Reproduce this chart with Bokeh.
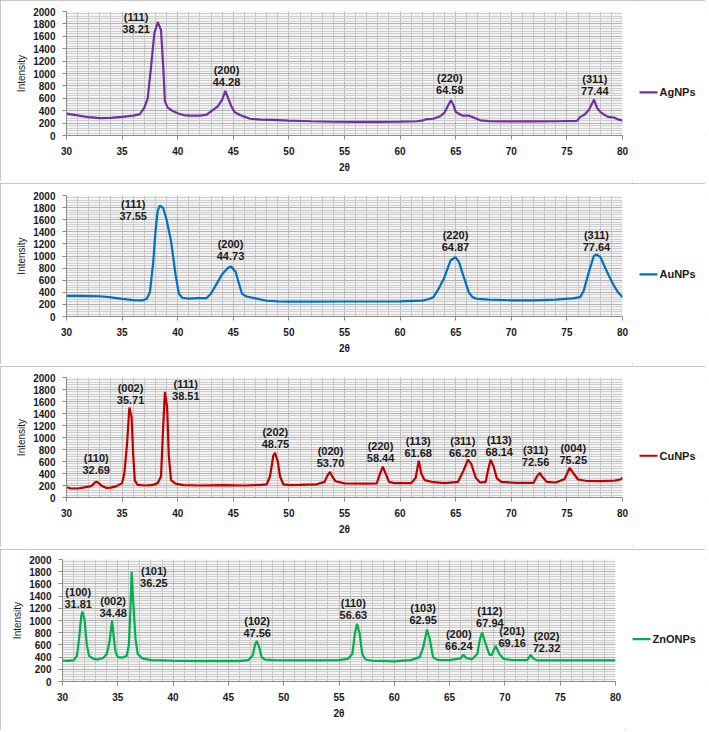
from bokeh.plotting import figure
from bokeh.layouts import column, row
from bokeh.models import SingleIntervalTicker, Range1d, ColumnDataSource
from bokeh.embed import file_html
from bokeh.resources import INLINE
from bokeh.core.properties import value

# ---------------- data ----------------
x_ticks = [30, 35, 40, 45, 50, 55, 60, 65, 70, 75, 80]
y_ticks = [0, 200, 400, 600, 800, 1000, 1200, 1400, 1600, 1800, 2000]

ag_x = [30, 31, 32, 33, 34, 35, 36, 36.6, 37.0, 37.3, 37.6, 37.9, 38.21, 38.5, 38.7, 38.85, 39.1, 39.5, 40,
        40.5, 41, 42, 42.6, 43, 43.6, 44.0, 44.28, 44.5, 44.8, 45.1, 45.6, 46.5, 47.5, 48.5, 50, 52, 54, 56,
        58, 60, 61.5, 62.1, 62.4, 63.0, 63.6, 64.0, 64.3, 64.58, 64.8, 65.0, 65.3, 65.6, 66.2, 66.6, 67.2,
        68, 70, 72, 74, 75.9, 76.2, 76.6, 77.0, 77.2, 77.44, 77.7, 78.0, 78.4, 78.7, 79.2, 79.6, 80]
ag_y = [352, 325, 295, 280, 285, 300, 320, 345, 450, 600, 1100, 1650, 1830, 1700, 1100, 550, 450, 400, 360,
        330, 320, 320, 335, 390, 470, 580, 720, 620, 480, 380, 330, 270, 255, 252, 240, 230, 222, 220,
        220, 225, 230, 245, 265, 270, 310, 370, 480, 570, 490, 380, 350, 320, 320, 290, 245,
        232, 228, 228, 230, 235, 300, 340, 420, 490, 580, 450, 380, 330, 300, 290, 260, 240]

au_x = [30, 31, 32, 33, 34, 35, 36, 36.8, 37.2, 37.5, 37.8, 38.0, 38.2, 38.4, 38.7, 39.0, 39.4, 39.8, 40.1,
        40.4, 41, 41.8, 42.6, 43.0, 43.5, 44.0, 44.5, 44.8, 45.2, 45.5, 45.8, 46.2, 47, 48, 49, 50, 52, 55,
        58, 60, 62, 62.6, 63.0, 63.5, 63.93, 64.53, 64.98, 65.3, 65.58, 66.18, 66.5, 66.93, 68, 70, 72, 74,
        75.5, 76.2, 76.5, 76.97, 77.42, 77.66, 78.02, 78.62, 79.22, 79.6, 80]
au_y = [340, 340, 338, 335, 315, 290, 270, 265, 290, 400, 900, 1400, 1750, 1835, 1790, 1600, 1250, 700, 380,
        310, 295, 305, 305, 380, 540, 700, 800, 826, 740, 550, 370, 330, 300, 260, 250, 245, 245, 248,
        248, 250, 262, 290, 320, 470, 623, 925, 980, 900, 733, 400, 320, 292, 280, 268, 268, 280,
        300, 320, 420, 733, 1000, 1025, 980, 733, 512, 400, 320]

cu_x = [30, 30.4, 31, 31.5, 32.0, 32.3, 32.55, 32.7, 32.9, 33.2, 33.6, 34.0, 34.5, 35.0, 35.2, 35.45, 35.65,
        35.85, 36.0, 36.15, 36.4, 37, 37.7, 38.2, 38.5, 38.7, 38.85, 39.05, 39.2, 39.4, 39.8, 40.5, 42, 44,
        46, 47.5, 48.0, 48.3, 48.6, 48.75, 49.0, 49.2, 49.5, 50, 51, 52.5, 53.2, 53.5, 53.7, 53.9, 54.2, 55,
        57, 57.9, 58.2, 58.44, 58.7, 59.0, 59.5, 61, 61.4, 61.68, 61.9, 62.2, 63, 64, 65.2, 65.7, 66.1, 66.4,
        66.8, 67.2, 67.7, 67.9, 68.14, 68.4, 68.7, 69.1, 70.5, 72.0, 72.3, 72.56, 72.8, 73.2, 74, 74.8,
        75.25, 75.6, 76.0, 76.8, 78, 79.3, 79.8, 80]
cu_y = [170, 150, 150, 165, 180, 200, 250, 265, 240, 190, 160, 165, 190, 240, 400, 900, 1500,
        1350, 700, 280, 210, 200, 205, 240, 350, 1200, 1760, 1500, 700, 290, 230, 205, 200, 205,
        200, 210, 220, 350, 700, 745, 600, 350, 220, 205, 210, 220, 260, 380, 425, 350, 270, 235,
        230, 235, 400, 515, 400, 260, 240, 240, 330, 615, 400, 290, 255, 240, 260, 450, 630, 560,
        330, 250, 260, 450, 630, 520, 320, 260, 245, 245, 350, 410, 340, 260, 250, 310,
        495, 400, 300, 275, 272, 280, 300, 330]

zn_x = [30, 30.5, 31.0, 31.3, 31.5, 31.7, 31.81, 32.0, 32.2, 32.4, 32.8, 33.2, 33.7, 34.0, 34.25, 34.48, 34.65,
        34.8, 35.0, 35.4, 35.8, 36.0, 36.15, 36.25, 36.4, 36.6, 36.8, 37.2, 38, 40, 42, 44, 46, 46.8, 47.2,
        47.4, 47.56, 47.8, 48.0, 48.3, 49, 51, 53, 55, 55.8, 56.2, 56.45, 56.63, 56.85, 57.1, 57.4, 58, 60,
        61.5, 62.3, 62.6, 62.95, 63.2, 63.5, 63.9, 65, 66.0, 66.24, 66.5, 67.0, 67.5, 67.75, 67.94, 68.2,
        68.6, 68.8, 69.16, 69.5, 69.9, 70.5, 72.0, 72.2, 72.32, 72.6, 73, 75, 80]
zn_y = [340, 338, 345, 420, 700, 1080, 1145, 1000, 600, 420, 370, 360, 390, 450, 650, 1000, 700,
        480, 400, 390, 420, 600, 1200, 1800, 1300, 700, 450, 380, 350, 340, 335, 333, 335, 350, 430,
        600, 665, 550, 400, 360, 350, 345, 345, 350, 370, 450, 800, 945, 800, 450, 360, 340, 330,
        350, 400, 550, 850, 700, 400, 355, 350, 380, 440, 390, 360, 450, 700, 800, 650,
        440, 430, 585, 450, 370, 355, 350, 400, 440, 370, 345, 345, 345]

# peak labels: (hkl), reported 2-theta, and label anchor (centre of the two-line block)
ag_hkl = ["(111)", "(200)", "(220)", "(311)"]
ag_pk = ["38.21", "44.28", "64.58", "77.44"]
ag_lx = [36.26, 44.39, 64.47, 77.51]
ag_ly = [1814, 963, 838, 812]

au_hkl = ["(111)", "(200)", "(220)", "(311)"]
au_pk = ["37.55", "44.73", "64.87", "77.64"]
au_lx = [36.0, 44.75, 64.98, 77.66]
au_ly = [1763, 1096, 1243, 1256]

cu_hkl = ["(110)", "(002)", "(111)", "(202)", "(020)", "(220)", "(113)", "(311)", "(113)", "(311)", "(004)"]
cu_pk = ["32.69", "35.71", "38.51", "48.75", "53.70", "58.44", "61.68", "66.20", "68.14", "72.56", "75.25"]
cu_lx = [32.67, 35.76, 40.73, 48.79, 53.74, 58.24, 61.63, 65.64, 68.91, 72.18, 75.57]
cu_ly = [562, 1733, 1789, 991, 672, 756, 834, 850, 861, 686, 725]

zn_hkl = ["(100)", "(002)", "(101)", "(102)", "(110)", "(103)", "(200)", "(112)", "(201)", "(202)"]
zn_pk = ["31.81", "34.48", "36.25", "47.56", "56.63", "62.95", "66.24", "67.94", "69.16", "72.32"]
zn_lx = [31.42, 34.58, 38.26, 47.6, 56.3, 62.61, 65.83, 68.64, 70.66, 73.76]
zn_ly = [1366, 1219, 1705, 891, 1183, 1104, 681, 1060, 722, 642]

names = ["AgNPs", "AuNPs", "CuNPs", "ZnONPs"]
colors = ["#7030A0", "#0070C0", "#C00000", "#00B050"]

# ---------------- layout ----------------
W, H = 705, 181
FRAME_LEFT = [66, 66, 66, 62]
FRAME_W = [556, 556, 556, 553]
FRAME_TOP = [11, 12, 11, 10]
FRAME_H = [124, 121, 120, 122]
PAD_R = 10            # room on the right for the last tick label
LEG_GAP = 17          # legend sample offset right of the plot area
LEG_Y = 63            # legend vertical position inside the side figure
LEG_LINE = 18         # legend sample length, px
FONT_NAME = "Liberation Sans"
FONT = value(FONT_NAME)

series = [
    (ag_x, ag_y, ag_hkl, ag_pk, ag_lx, ag_ly),
    (au_x, au_y, au_hkl, au_pk, au_lx, au_ly),
    (cu_x, cu_y, cu_hkl, cu_pk, cu_lx, cu_ly),
    (zn_x, zn_y, zn_hkl, zn_pk, zn_lx, zn_ly),
]


def make_panel(i):
    xs, ys, hkl, pk, lx, ly = series[i]
    left, fw, top, fh = FRAME_LEFT[i], FRAME_W[i], FRAME_TOP[i], FRAME_H[i]
    bottom = H - top - fh
    p = figure(width=left + fw + PAD_R, height=H, x_range=Range1d(x_ticks[0], x_ticks[-1]),
               y_range=Range1d(y_ticks[0], y_ticks[-1]),
               output_backend="svg", toolbar_location=None,
               min_border_left=left, min_border_right=PAD_R,
               min_border_top=top, min_border_bottom=bottom)
    p.outline_line_color = None
    p.background_fill_color = "#f4f4f4"
    p.border_fill_color = "white"

    p.xaxis.ticker = SingleIntervalTicker(interval=5, num_minor_ticks=5)
    p.yaxis.ticker = SingleIntervalTicker(interval=200, num_minor_ticks=5)
    for ax in (p.xaxis[0], p.yaxis[0]):
        ax.axis_line_color = "#8c8c8c"
        ax.major_tick_line_color = "#8c8c8c"
        ax.major_tick_out = 4
        ax.major_tick_in = 0
        ax.minor_tick_line_color = None
        ax.major_label_text_font = FONT_NAME
        ax.major_label_text_font_style = "bold"
        ax.major_label_text_color = "#1a1a1a"
        ax.axis_label_text_font = FONT_NAME
        ax.axis_label_text_color = "#1a1a1a"
    p.xaxis.major_label_text_font_size = "10px"
    p.yaxis.major_label_text_font_size = "10px"
    p.xaxis.major_label_standoff = 7
    p.yaxis.major_label_standoff = 7
    p.xaxis.axis_label = "2θ"
    p.xaxis.axis_label_text_font_style = "bold"
    p.xaxis.axis_label_text_font_size = "10px"
    p.xaxis.axis_label_standoff = 4
    p.yaxis.axis_label = "Intensity"
    p.yaxis.axis_label_text_font_style = "normal"
    p.yaxis.axis_label_text_font_size = "10px"
    p.yaxis.axis_label_standoff = 3

    p.xgrid.grid_line_color = "#b8b8b8"
    p.xgrid.minor_grid_line_color = "#c4c4c4"
    p.ygrid.grid_line_color = "#b4b4b4"
    p.ygrid.minor_grid_line_color = "#cfcfcf"

    p.line(xs, ys, line_color=colors[i], line_width=2.2)

    labels = [h + "\n" + v for h, v in zip(hkl, pk)]
    src = ColumnDataSource(dict(x=lx, y=ly, t=labels))
    p.text(x="x", y="y", text="t", source=src, text_align="center", text_baseline="middle",
           text_font=FONT, text_font_style="bold", text_font_size="11px",
           text_line_height=1.0, text_color="#1a1a1a")

    # legend: a small side figure whose data units are pixels
    lw = W - (left + fw + PAD_R)
    lf = figure(width=lw, height=H, x_range=Range1d(0, lw), y_range=Range1d(0, H),
                output_backend="svg", toolbar_location=None,
                x_axis_location=None, y_axis_location=None,
                min_border_left=0, min_border_right=0, min_border_top=0, min_border_bottom=0)
    lf.grid.visible = False
    lf.outline_line_color = None
    lf.background_fill_color = "white"
    lf.border_fill_color = "white"
    gx = LEG_GAP - PAD_R
    gy = LEG_Y
    lf.line(x=[gx, gx + LEG_LINE], y=[gy, gy], line_color=colors[i], line_width=2.2)
    lf.text(x=[gx + LEG_LINE + 2], y=[gy], text=[names[i]], text_align="left", text_baseline="middle",
            text_font=FONT, text_font_style="bold", text_font_size="11px", text_color="#1a1a1a")

    r = row(p, lf, spacing=0)
    r.styles = {"outline": "1px solid #b4b4b4", "outline-offset": "-1px"}
    return r


panels = [make_panel(i) for i in range(4)]
layout = column(*panels, spacing=2)

open("out.html", "w").write(file_html(layout, INLINE))
